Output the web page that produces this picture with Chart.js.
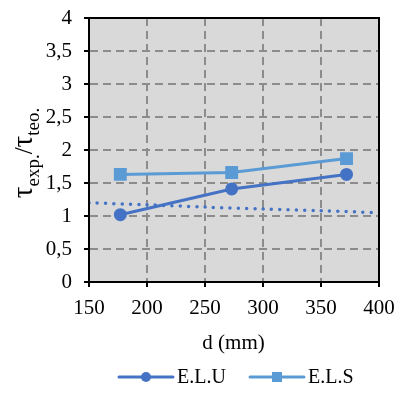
<!DOCTYPE html>
<html>
<head>
<meta charset="utf-8">
<script src="https://cdn.jsdelivr.net/npm/chart.js@4"></script>
<style>
  html, body { margin: 0; padding: 0; background: #fff; }
  #wrap { width: 401px; height: 393px; }
</style>
</head>
<body>
<div id="wrap"><canvas id="grafica" width="401" height="393"></canvas></div>
<script>
// ==== Datos ====
const dValues   = [177, 273, 372];          // d (mm)
const eluValues = [1.02, 1.41, 1.63];       // E.L.U
const elsValues = [1.63, 1.66, 1.87];       // E.L.S
const trendX    = [150, 200, 250, 300, 350, 400];
const trendY    = [1.20, 1.17, 1.135, 1.105, 1.08, 1.05];
const seriesNames = ['E.L.U', 'E.L.S'];
const xTitle = 'd (mm)';

const COL_ELU = '#4472C4';
const COL_ELS = '#5B9BD5';
const FONT = '"Liberation Serif", "Times New Roman", serif';

const toPts = (xs, ys) => xs.map((x, i) => ({ x: x, y: ys[i] }));

// ==== Plugin: fondo, borde, título Y, título X y leyenda ====
const decor = {
  id: 'decor',
  beforeDraw(chart) {
    const { ctx, chartArea: a } = chart;
    ctx.save();
    ctx.fillStyle = '#D9D9D9';
    ctx.fillRect(a.left, a.top, a.right - a.left, a.bottom - a.top);
    ctx.restore();
  },
  afterDraw(chart) {
    const { ctx, chartArea: a } = chart;
    ctx.save();
    // borde
    ctx.strokeStyle = '#000';
    ctx.lineWidth = 2;
    ctx.strokeRect(a.left, a.top, a.right - a.left, a.bottom - a.top);

    // título eje Y: τexp./τteo.
    const parts = [
      { t: 'τ', size: 29, dy: 0 },
      { t: 'exp.', size: 19, dy: 7 },
      { t: '/', size: 25, dy: 0 },
      { t: 'τ', size: 29, dy: 0 },
      { t: 'teo.', size: 19, dy: 7 }
    ];
    let total = 0;
    parts.forEach(p => {
      ctx.font = p.size + 'px ' + FONT;
      p.w = ctx.measureText(p.t).width;
      total += p.w;
    });
    ctx.translate(32, 153);
    ctx.rotate(-Math.PI / 2);
    ctx.fillStyle = '#000';
    ctx.textBaseline = 'alphabetic';
    ctx.textAlign = 'left';
    let x = -total / 2;
    parts.forEach(p => {
      ctx.font = p.size + 'px ' + FONT;
      ctx.fillText(p.t, x, p.dy);
      x += p.w;
    });
    ctx.setTransform(1, 0, 0, 1, 0, 0);

    // título eje X
    ctx.font = '21px ' + FONT;
    ctx.textAlign = 'center';
    ctx.textBaseline = 'middle';
    ctx.fillText(xTitle, (a.left + a.right) / 2 - 0.5, 343);

    // leyenda
    const items = [
      { name: seriesNames[0], color: COL_ELU, x0: 119, style: 'circle' },
      { name: seriesNames[1], color: COL_ELS, x0: 250, style: 'rect' }
    ];
    const ly = 377;
    items.forEach(it => {
      ctx.strokeStyle = it.color;
      ctx.lineWidth = 3;
      ctx.lineCap = 'round';
      ctx.beginPath();
      ctx.moveTo(it.x0, ly);
      ctx.lineTo(it.x0 + 54, ly);
      ctx.stroke();
      ctx.fillStyle = it.color;
      const cx = it.x0 + 27;
      if (it.style === 'circle') {
        ctx.beginPath();
        ctx.arc(cx, ly, 5, 0, Math.PI * 2);
        ctx.fill();
      } else {
        ctx.fillRect(cx - 5, ly - 5, 10, 10);
      }
      ctx.fillStyle = '#000';
      ctx.font = '20px ' + FONT;
      ctx.textAlign = 'left';
      ctx.fillText(it.name, it.x0 + 58, ly + 1);
    });
    ctx.restore();
  }
};

const gridOpts = {
  color: '#8C8C8C',
  lineWidth: 2,
  tickLength: 5,
  tickColor: '#000',
  tickWidth: 2,
  tickBorderDash: []
};

const canvas = document.getElementById('grafica');
const chart = new Chart(canvas, {
  type: 'line',
  data: {
    datasets: [
      {
        label: 'tendencia',
        data: toPts(trendX, trendY),
        borderColor: COL_ELU,
        borderWidth: 3.5,
        borderDash: [0, 8.3],
        borderCapStyle: 'round',
        pointRadius: 0,
        tension: 0.3,
        order: 3
      },
      {
        label: seriesNames[0],
        data: toPts(dValues, eluValues),
        borderColor: COL_ELU,
        backgroundColor: COL_ELU,
        borderWidth: 3,
        pointStyle: 'circle',
        pointRadius: 5,
        order: 2
      },
      {
        label: seriesNames[1],
        data: toPts(dValues, elsValues),
        borderColor: COL_ELS,
        backgroundColor: COL_ELS,
        borderWidth: 3,
        pointStyle: 'rect',
        pointRadius: 7,
        order: 1
      }
    ]
  },
  options: {
    responsive: false,
    animation: false,
    layout: { padding: { left: 0, top: 18, right: 22, bottom: 0 } },
    plugins: {
      legend: { display: false },
      tooltip: { enabled: false }
    },
    scales: {
      x: {
        type: 'linear',
        min: 150,
        max: 400,
        ticks: {
          stepSize: 50,
          padding: 9,
          color: '#000',
          font: { family: FONT, size: 21 }
        },
        grid: gridOpts,
        border: { display: true, color: '#000', width: 2, dash: [8, 5] },
        afterFit(scale) {
          scale.height = 111;
          scale.paddingLeft = 0;
          scale.paddingRight = 0;
        }
      },
      y: {
        min: 0,
        max: 4,
        ticks: {
          stepSize: 0.5,
          padding: 12,
          color: '#000',
          font: { family: FONT, size: 21 },
          callback: v => String(v).replace('.', ',')
        },
        grid: gridOpts,
        border: { display: true, color: '#000', width: 2, dash: [8, 5] },
        afterFit(scale) {
          scale.width = 89;
          scale.paddingTop = 0;
          scale.paddingBottom = 0;
        }
      }
    }
  },
  plugins: [decor]
});
</script>
</body>
</html>
